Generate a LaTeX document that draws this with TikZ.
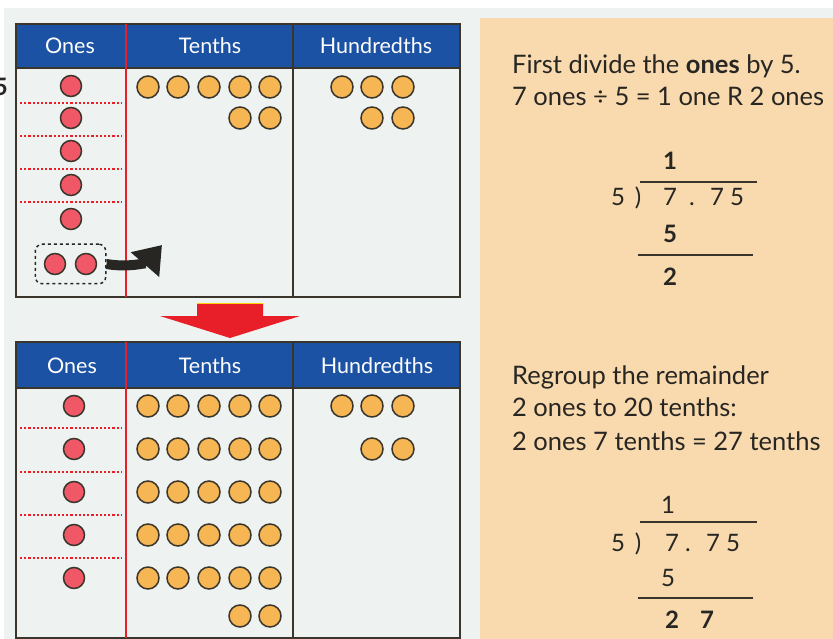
\documentclass[tikz,border=0pt]{standalone}
\usepackage{fontspec}
\setmainfont{Lato}
\usetikzlibrary{arrows.meta, fit}
\definecolor{hdrblue}{RGB}{28,82,164}
\definecolor{pagegrey}{RGB}{238,243,241}
\definecolor{peach}{RGB}{248,218,174}
\definecolor{onesred}{RGB}{240,88,104}
\definecolor{tenthorange}{RGB}{246,182,84}
\definecolor{rimbrown}{RGB}{58,54,44}
\definecolor{inkgrey}{RGB}{40,38,34}
\definecolor{linered}{RGB}{232,30,40}

\begin{document}
\begin{tikzpicture}[x=1pt,y=-1pt,
  onedot/.style={circle,fill=onesred,draw=rimbrown,line width=1.5pt,minimum size=21pt,inner sep=0pt},
  tenthdot/.style={circle,fill=tenthorange,draw=rimbrown,line width=1.5pt,minimum size=22pt,inner sep=0pt},
  hdr/.style={text=white,font=\fontsize{21.5}{24}\selectfont},
  txt/.style={text=inkgrey,font=\fontsize{25.5}{28}\selectfont,anchor=base west,inner sep=0pt},
  dig/.style={text=inkgrey,font=\fontsize{24}{28}\selectfont,anchor=base,inner sep=0pt},
  bdig/.style={dig,font=\fontsize{24}{28}\selectfont\bfseries},
  sepline/.style={linered,line width=2.2pt,dash pattern=on 2.2pt off 2pt},
  rule/.style={rimbrown,line width=1.5pt}]
  \useasboundingbox (0,0) rectangle (833,639);
  \fill[white] (0,0) rectangle (833,639);
  \fill[pagegrey] (4,8) rectangle (833,639);
  \fill[peach] (480,18) rectangle (833,639);
  \node[bdig,anchor=base east] (cut5) at (8,96) {5};
  % top chart
  \fill[hdrblue] (16,24) rectangle (460,68);
  \draw[rule] (16,24) rectangle (460,297);
  \draw[rule] (16,68) -- (460,68);
  \draw[rule] (293,24) -- (293,297);
  \draw[linered,line width=2.8pt] (126,24) -- (126,297);
  \node[hdr] (onesa) at (70,46) {Ones};
  \node[hdr] (tenthsa) at (210,46) {Tenths};
  \node[hdr] (hundra) at (376,46) {Hundredths};
  \foreach \y [count=\i] in {86,118,151,185,219}
    \node[onedot] (oa\i) at (71,\y) {};
  \foreach \y in {103,136,169,202}
    \draw[sepline] (20,\y) -- (122,\y);
  \foreach \x [count=\i] in {148,178,209,240,270}
    \node[tenthdot] (ta\i) at (\x,87) {};
  \foreach \x [count=\i] in {240,270}
    \node[tenthdot] (tb\i) at (\x,118) {};
  \foreach \x [count=\i] in {342,372,403}
    \node[tenthdot] (ha\i) at (\x,87) {};
  \foreach \x [count=\i] in {372,403}
    \node[tenthdot] (hb\i) at (\x,118) {};
  \node[onedot] (pa) at (55,264) {};
  \node[onedot] (pb) at (86,264) {};
  \node[draw=inkgrey,line width=1.5pt,dash pattern=on 3pt off 3pt,rounded corners=7pt,inner sep=8.5pt,fit=(pa)(pb)] (pair) {};
  \coordinate (movetip) at (162,245);
  \draw[inkgrey,line width=10pt,-{Triangle[length=26pt,width=36pt]}] (pair.east) to[out=-10,in=229] (movetip);
  % red arrow
  \fill[linered] (197,303) -- (263,303) -- (263,316) -- (300,316) -- (230,338) -- (160,316) -- (197,316) -- cycle;
  \draw[yellow!70!orange,line width=1pt] (197,303.5) -- (263,303.5);
  % bottom chart
  \fill[hdrblue] (16,342) rectangle (460,388);
  \draw[rule] (16,342) rectangle (460,638);
  \draw[rule] (16,388) -- (460,388);
  \draw[rule] (293,342) -- (293,638);
  \draw[linered,line width=2.8pt] (126,342) -- (126,638);
  \node[hdr] (onesb) at (72,366) {Ones};
  \node[hdr] (tenthsb) at (210,366) {Tenths};
  \node[hdr] (hundrb) at (377,366) {Hundredths};
  \foreach \y [count=\i] in {406,449,492,535,578}
    \node[onedot] (ob\i) at (74,\y) {};
  \foreach \y in {428,472,515,558}
    \draw[sepline] (20,\y) -- (122,\y);
  \foreach \y [count=\j] in {406,449,492,535,578}
    \foreach \x [count=\i] in {148,178,209,240,270}
      \node[tenthdot] (tc\j\i) at (\x,\y) {};
  \foreach \x [count=\i] in {240,270}
    \node[tenthdot] (td\i) at (\x,616) {};
  \foreach \x [count=\i] in {342,372,403}
    \node[tenthdot] (hc\i) at (\x,406) {};
  \foreach \x [count=\i] in {372,403}
    \node[tenthdot] (hd\i) at (\x,449) {};
  % first step
  \node[txt] (stepa) at (512,74) {First divide the \textbf{ones} by 5.};
  \node[txt] (stepb) at (512,106) {7 ones ÷ 5 = 1 one R 2 ones};
  \node[bdig] (qa) at (670,170) {1};
  \draw[rule] (640,182) -- (757,182);
  \node[dig] (dva) at (618,206) {5};
  \node[dig] (bra) at (638,206) {)};
  \foreach \x/\d [count=\i] in {670/7,692/.,717/7,737/5}
    \node[dig] (da\i) at (\x,206) {\d};
  \node[bdig] (sa) at (670,243) {5};
  \draw[rule] (638,255) -- (753,255);
  \node[bdig] (ra) at (670,285) {2};
  % second step
  \node[txt] (stepc) at (512,384) {Regroup the remainder};
  \node[txt] (stepd) at (512,416) {2 ones to 20 tenths:};
  \node[txt] (stepe) at (512,450) {2 ones 7 tenths = 27 tenths};
  \node[dig] (qb) at (668,513) {1};
  \draw[rule] (640,522) -- (757,522);
  \node[dig] (dvb) at (618,551) {5};
  \node[dig] (brb) at (638,551) {)};
  \foreach \x/\d [count=\i] in {672/7,688/.,713/7,733/5}
    \node[dig] (db\i) at (\x,551) {\d};
  \node[dig] (sb) at (668,586) {5};
  \draw[rule] (638,598) -- (753,598);
  \node[bdig] (rb1) at (672,628) {2};
  \node[bdig] (rb2) at (707,628) {7};
\end{tikzpicture}
\end{document}
